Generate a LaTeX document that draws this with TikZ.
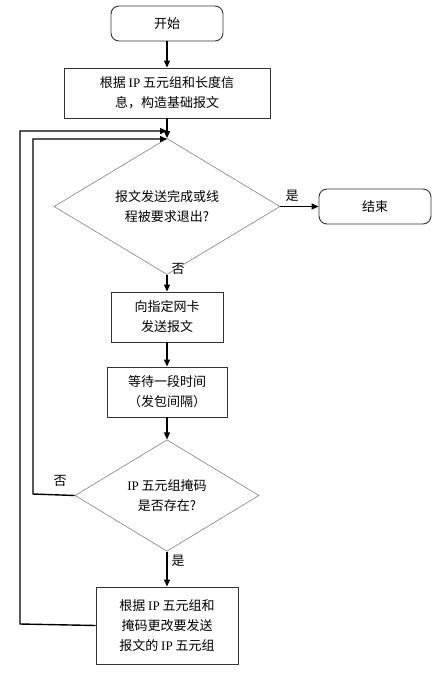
\documentclass[tikz,border=0pt]{standalone}
\usepackage{fontspec}
\setmainfont{Noto Sans CJK SC}
\newfontfamily\latf{Liberation Serif}
\usetikzlibrary{shapes.geometric,arrows.meta}
\newcommand{\IP}{{\latf IP}}
\begin{document}
\begin{tikzpicture}[x=1pt,y=-1pt,
  every node/.style={font=\fontsize{13}{20}\selectfont, inner sep=0pt},
  term/.style={draw=black!80, line width=0.9pt, rounded corners=8pt, minimum width=112pt, minimum height=35pt},
  proc/.style={draw=black!80, line width=0.9pt, align=center},
  dec/.style={draw=black!50, line width=0.6pt, diamond, align=center},
  flow/.style={line width=1.4pt, -{Triangle[length=7pt,width=6pt]}},
  lab/.style={font=\fontsize{13}{15}\selectfont}
]
\useasboundingbox (0,0) rectangle (441,675);
\node[term] (start) at (167,23.5) {开始};
\node[proc, minimum width=206pt, minimum height=50pt] (b2) at (167,93) {根据 \IP{} 五元组和长度信\\息，构造基础报文};
\node[dec, minimum width=226pt, minimum height=101pt] (d1) at (167,206.5) {报文发送完成或线\\程被要求退出?};
\node[term] (end) at (375,206.5) {结束};
\node[proc, minimum width=112pt, minimum height=50pt] (b3) at (167,317) {向指定网卡\\发送报文};
\node[proc, minimum width=120pt, minimum height=50pt] (b4) at (167,392) {等待一段时间\\（发包间隔）};
\node[dec, minimum width=184pt, minimum height=101pt] (d2) at (167,495.5) {\IP{} 五元组掩码\\是否存在?};
\node[proc, minimum width=142pt, minimum height=77pt] (b5) at (167,625.5) {根据 \IP{} 五元组和\\掩码更改要发送\\报文的 \IP{} 五元组};
\coordinate (j1) at (167,131);
\coordinate (j2) at (167,139);
\coordinate (c1) at (20,624);
\coordinate (c2) at (20,131);
\coordinate (c3) at (33,494);
\coordinate (c4) at (33,139);
\draw[flow] (start) -- (b2);
\draw[flow] (b2) -- (d1);
\draw[flow] (d1) -- (end);
\draw[flow] (d1) -- (b3);
\draw[flow] (b3) -- (b4);
\draw[flow] (b4) -- (d2);
\draw[flow] (d2) -- (b5);
\draw[flow] (d2.west) -- (c3) -- (c4) -- (j2);
\draw[flow] (b5.west) -- (c1) -- (c2) -- (j1);
\node[lab] (l1) at (292,196) {是};
\node[lab] (l2) at (178,269) {否};
\node[lab] (l3) at (60,481) {否};
\node[lab] (l4) at (178,561) {是};
\end{tikzpicture}
\end{document}
